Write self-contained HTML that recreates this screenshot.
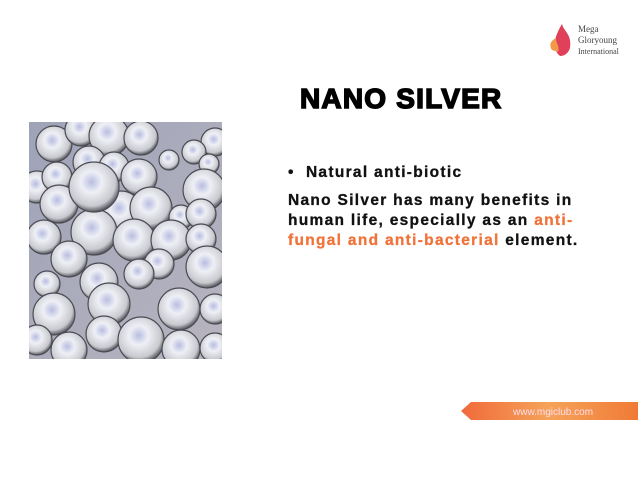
<!DOCTYPE html>
<html><head><meta charset="utf-8"><style>
body{margin:0;width:638px;height:479px;background:#fff;position:relative;overflow:hidden;font-family:"Liberation Sans",sans-serif}
.abs{position:absolute}
#title{left:300px;top:83px;font-size:28px;font-weight:bold;color:#000;-webkit-text-stroke:1.5px #000;letter-spacing:1.2px;white-space:nowrap}
.txt{left:288px;font-size:15.5px;font-weight:bold;color:#111;letter-spacing:1.3px;white-space:nowrap;line-height:20px;-webkit-text-stroke:0.3px #111}
.or{color:#f0733a;-webkit-text-stroke:0.3px #f0733a}
</style></head><body>
<div class="abs" style="left:546px;top:18px;width:92px;height:42px">
<svg width="92" height="42"><path d="M14 38 C4 30 10 16 16 6 C18 14 26 16 24 30 C22 36 18 38 14 38Z" fill="#e0405a"/><path d="M6 32 C2 26 6 22 10 20 C10 26 14 28 12 34Z" fill="#f29a4a"/>
<text x="32" y="14" font-size="9" fill="#444" font-family="Liberation Serif">Mega</text><text x="32" y="25" font-size="9" fill="#444" font-family="Liberation Serif">Gloryoung</text><text x="32" y="36" font-size="8" fill="#444" font-family="Liberation Serif">International</text></svg></div>
<div id="title" class="abs">NANO SILVER</div>
<div class="abs" style="left:29px;top:122px;width:193px;height:237px">
<svg id="img" width="193" height="237"><defs><radialGradient id="g" cx="0.45" cy="0.4" r="0.6"><stop offset="0" stop-color="#b9bde0"/><stop offset="0.35" stop-color="#eef0f6"/><stop offset="0.8" stop-color="#c8c9cf"/><stop offset="1" stop-color="#55565c"/></radialGradient>
<linearGradient id="bg" x1="0" y1="0" x2="1" y2="1"><stop offset="0" stop-color="#9ea3b8"/><stop offset="1" stop-color="#b8b4bf"/></linearGradient></defs>
<rect width="193" height="237" fill="url(#bg)"/></svg></div>
<div class="abs txt" style="top:163px">•&nbsp; Natural anti-biotic</div>
<div class="abs txt" style="top:191px">Nano Silver has many benefits in<br>human life, especially as an <span class="or">anti-</span><br><span class="or">fungal and anti-bacterial</span> element.</div>
<div class="abs" style="left:461px;top:402px;width:177px;height:18px">
<svg width="177" height="18"><defs><linearGradient id="b" x1="0" x2="1"><stop offset="0" stop-color="#f06a3a"/><stop offset="0.5" stop-color="#f5a35a"/><stop offset="1" stop-color="#f07a35"/></linearGradient></defs><polygon points="0,9 10,0 177,0 177,18 10,18" fill="url(#b)"/><text x="52" y="13" font-size="10" fill="#fde" font-family="Liberation Sans">www.mgiclub.com</text></svg></div>
<script>
const s=[[8,65,16],[186,20,14],[25,22,18],[52,8,16],[80,14,20],[112,16,17],[140,38,10],[165,30,12],[180,42,10],[60,40,16],[85,45,15],[28,55,15],[110,55,18],[175,68,21],[30,82,19],[92,90,21],[122,86,21],[152,95,12],[172,92,15],[15,115,17],[65,110,23],[105,118,21],[142,118,20],[172,117,15],[40,137,18],[130,142,15],[178,145,21],[70,160,19],[110,152,15],[18,162,13],[25,192,21],[80,182,21],[150,187,21],[186,187,15],[75,212,18],[112,218,23],[152,227,19],[40,228,18],[186,226,15],[8,218,15],[65,65,25]];
const svg=document.getElementById('img');
s.forEach(c=>{const e=document.createElementNS('http://www.w3.org/2000/svg','circle');e.setAttribute('cx',c[0]);e.setAttribute('cy',c[1]);e.setAttribute('r',c[2]);e.setAttribute('fill','url(#g)');e.setAttribute('stroke','#4a4b52');e.setAttribute('stroke-width','1.2');


svg.appendChild(e);});
</script>
</body></html>
